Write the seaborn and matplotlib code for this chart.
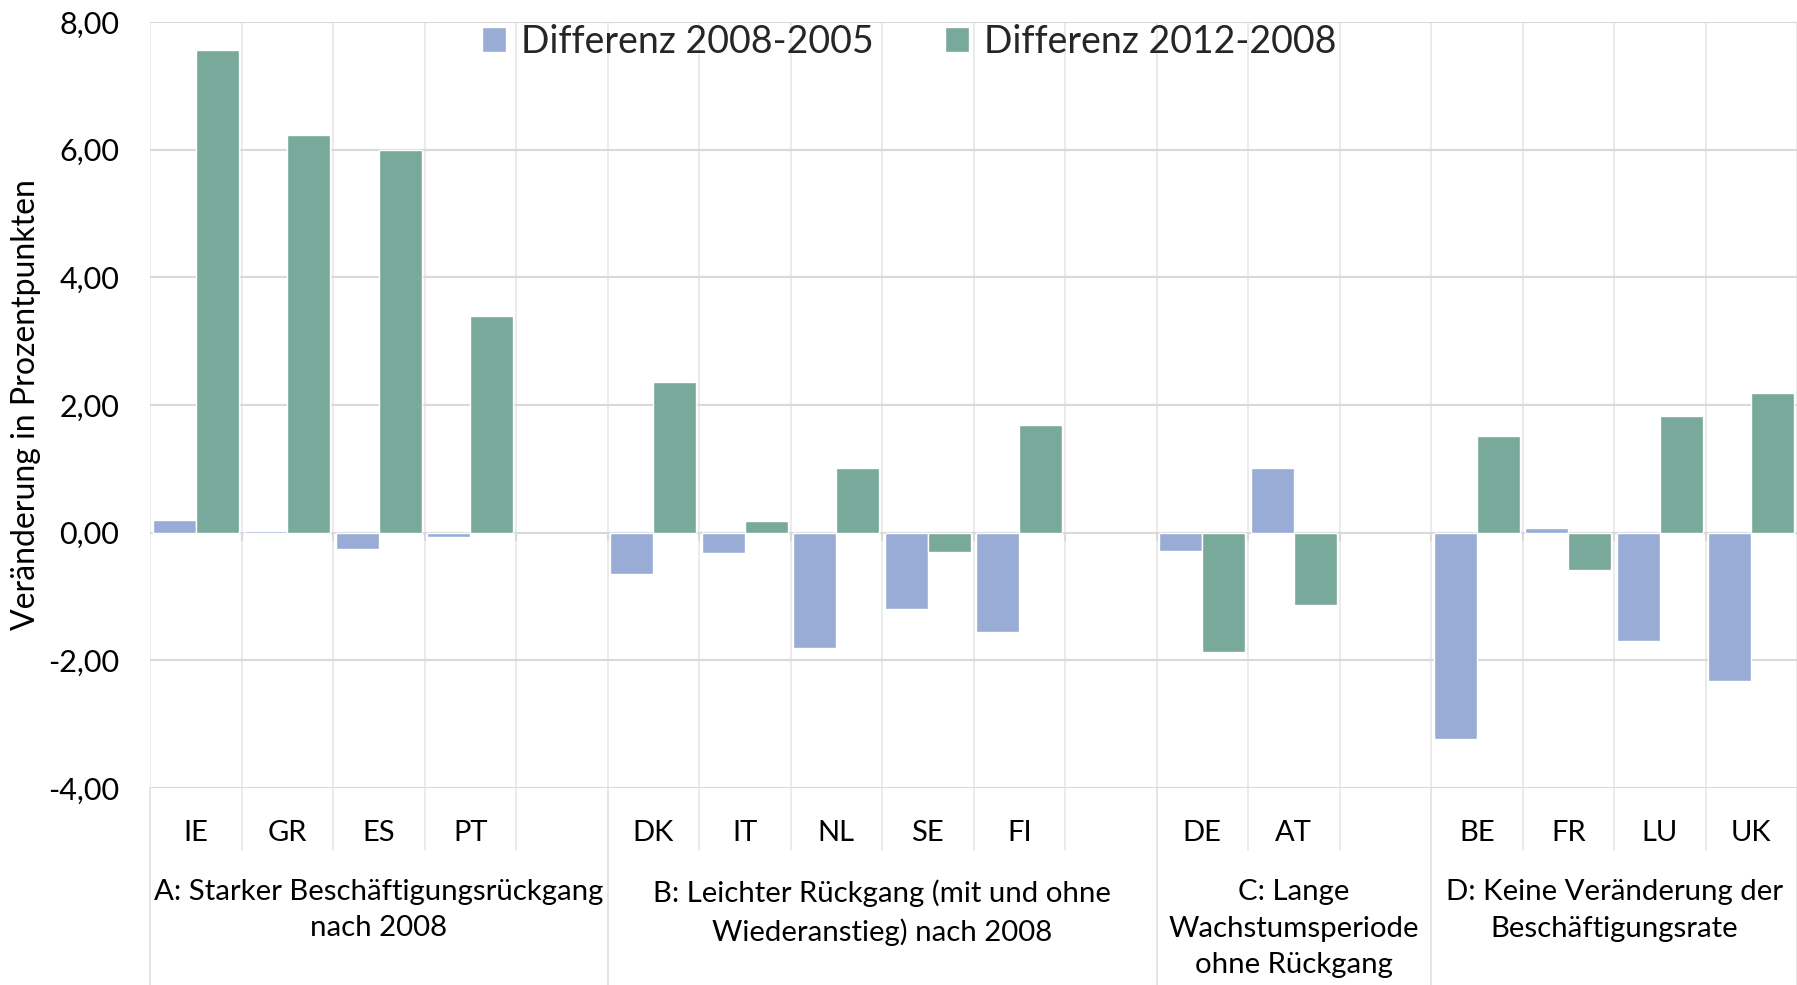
import numpy as np
import pandas as pd
import matplotlib
matplotlib.use("Agg")
import matplotlib.pyplot as plt
import matplotlib.transforms as mtransforms
from matplotlib.lines import Line2D
from matplotlib.ticker import FuncFormatter
import seaborn as sns

# ---------------- data ----------------
slots = ["IE", "GR", "ES", "PT", " ",
         "DK", "IT", "NL", "SE", "FI", "  ",
         "DE", "AT", "   ",
         "BE", "FR", "LU", "UK"]
diff_2008_2005 = [0.20, 0.03, -0.26, -0.07, np.nan,
                  -0.65, -0.32, -1.81, -1.20, -1.56, np.nan,
                  -0.28, 1.02, np.nan,
                  -3.23, 0.08, -1.69, -2.32]
diff_2012_2008 = [7.56, 6.23, 5.99, 3.39, np.nan,
                  2.36, 0.18, 1.01, -0.30, 1.68, np.nan,
                  -1.87, -1.14, np.nan,
                  1.52, -0.58, 1.83, 2.19]
series_names = ["Differenz 2008-2005", "Differenz 2012-2008"]
groups = ["A: Starker Beschäftigungsrückgang\nnach 2008",
          "B: Leichter Rückgang (mit und ohne\nWiederanstieg) nach 2008",
          "C: Lange\nWachstumsperiode\nohne Rückgang",
          "D: Keine Veränderung der\nBeschäftigungsrate"]
group_sizes = [5, 6, 3, 4]
y_ticks = [-4, -2, 0, 2, 4, 6, 8]
y_label = "Veränderung in Prozentpunkten"

colors = ["#99acd5", "#78a99b"]
hgrid = "#d9d9d9"
vgrid = "#e8e8e8"

df = pd.DataFrame({
    "land": slots * 2,
    "serie": [series_names[0]] * len(slots) + [series_names[1]] * len(slots),
    "wert": diff_2008_2005 + diff_2012_2008,
})

sns.set_theme(style="white")
plt.rcParams["font.family"] = ["Lato", "DejaVu Sans"]

fig = plt.figure(figsize=(17.97, 9.85), dpi=100)
ax = fig.add_axes([150 / 1797, 197 / 985, 1 - 150 / 1797, (788 - 22) / 985])

sns.barplot(data=df, x="land", y="wert", hue="serie", order=slots,
            hue_order=series_names, palette=colors, width=0.94,
            errorbar=None, edgecolor="white", linewidth=1.0,
            saturation=1, ax=ax, zorder=3)

n = len(slots)
ax.set_xlim(-0.5, n - 0.5)
ax.set_ylim(y_ticks[0], y_ticks[-1])
ax.set_yticks(y_ticks)
ax.yaxis.set_major_formatter(FuncFormatter(lambda v, p: f"{v:.2f}".replace(".", ",")))
for s in ax.spines.values():
    s.set_visible(False)

# horizontal gridlines
ax.grid(axis="y", color=hgrid, linewidth=1.5, zorder=0)
# vertical slot boundaries
bounds = np.arange(-0.5, n, 1.0)
for b in bounds:
    ax.axvline(b, color=vgrid, linewidth=1.2, zorder=0)
# small ticks at zero line
ax.vlines(bounds[1:-1], -0.13, 0, color=hgrid, linewidth=1.5, zorder=1)

ax.tick_params(axis="y", labelsize=22, length=7, width=1.5, color=hgrid, pad=15,
               labelcolor="black")
ax.tick_params(axis="x", labelsize=21, length=0, pad=23, labelcolor="black")
ax.set_xlabel("")
ax.set_ylabel(y_label, fontsize=23, color="black")
ax.yaxis.set_label_coords(-0.066, 0.5)

# lines below the axes
trans = mtransforms.blended_transform_factory(ax.transData, fig.transFigure)
y_axis_bottom = 197 / 985
y_slot_end = 1 - 850 / 985
group_edges = np.concatenate([[-0.5], -0.5 + np.cumsum(group_sizes)])
for b in bounds:
    is_group = np.any(np.isclose(group_edges, b))
    y_end = 0 if is_group else y_slot_end
    ax.add_line(Line2D([b, b], [y_axis_bottom, y_end], transform=trans,
                       color=vgrid if not is_group else "#e0e0e0",
                       linewidth=1.2, clip_on=False))

# group labels
for g, left, size in zip(groups, group_edges[:-1], group_sizes):
    cx = left + size / 2
    ax.text(cx, 1 - 879 / 985, g, transform=trans, ha="center", va="top",
            fontsize=21.2, linespacing=1.5, color="black")

# legend
handles, labels = ax.get_legend_handles_labels()
ax.legend(handles, labels, loc="center", bbox_to_anchor=(0.506, 1 - 42 / 985),
          bbox_transform=fig.transFigure, ncol=2, frameon=False, fontsize=27,
          handlelength=0.65, handleheight=0.65, handletextpad=0.4,
          columnspacing=1.9)

fig.savefig("out.png", dpi=100, facecolor="white")
